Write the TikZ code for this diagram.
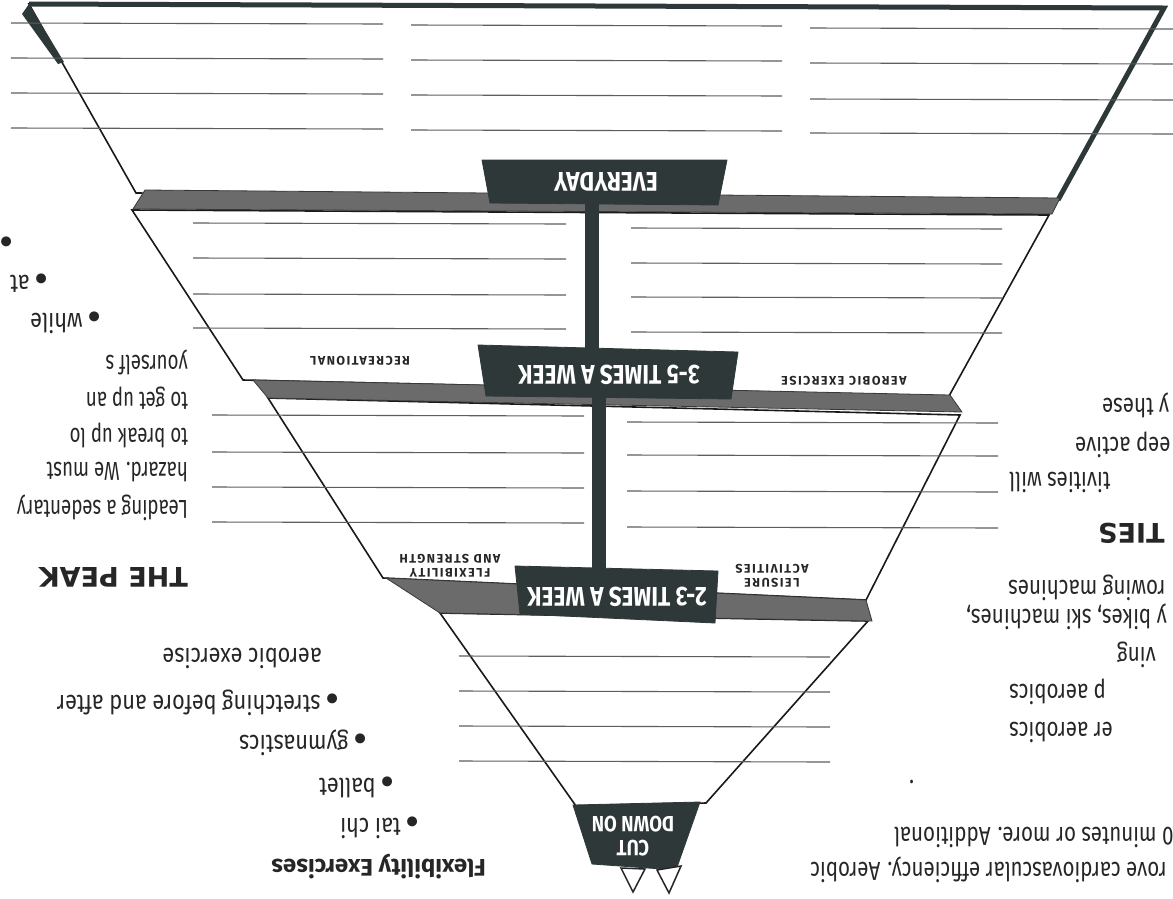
\documentclass[tikz,border=0pt]{standalone}
\usepackage{fontspec}
\setmainfont{Fira Sans}
\newfontfamily\bodyfont[FakeStretch=0.835]{Fira Sans}
\newfontfamily\sidefont[FakeStretch=0.79]{Fira Sans}
\newfontfamily\narrowfont[FakeStretch=0.72]{Fira Sans}
\newfontfamily\bannerfont[FakeStretch=0.84]{Fira Sans}
\newfontfamily\labelfont[LetterSpace=12]{Fira Sans}
\newfontfamily\headfont{DejaVu Sans}
\usepackage{tikz}
\usetikzlibrary{positioning}
\definecolor{slate}{HTML}{2E3838}
\definecolor{ink}{HTML}{262626}
\definecolor{rulegray}{HTML}{5E5E5E}
\newcommand{\blt}{{\headfont\fontsize{13}{13}\selectfont ●}}

\begin{document}
\begin{tikzpicture}[x=1pt, y=-1pt,
    tier/.style={fill=white, draw=black!90, line width=1.6pt},
    band/.style={fill=black!58, draw=black!78, line width=0.8pt},
    banner/.style={fill=slate, draw=slate, line width=0.8pt},
    rule/.style={draw=rulegray, line width=1.1pt},
    blabel/.style={rotate=180, text=white, inner sep=0pt,
                   font=\bannerfont\bfseries\fontsize{27}{28}\selectfont},
    tlabel/.style={rotate=180, text=ink, inner sep=0pt, align=center,
                   font=\labelfont\bfseries\fontsize{12.5}{14}\selectfont},
    body/.style={rotate=180, text=ink, inner sep=0pt,
                 font=\bodyfont\fontsize{26}{26}\selectfont},
    para/.style={body, font=\narrowfont\fontsize{26}{26}\selectfont},
    side/.style={body, font=\sidefont\fontsize{26}{26}\selectfont},
    head/.style={rotate=180, text=ink, inner sep=0pt,
                 font=\headfont\bfseries\fontsize{27}{27}\selectfont},
]
\useasboundingbox (0,0) rectangle (1173,898);
\fill[white] (0,0) rectangle (1173,898);
\clip (0,0) rectangle (1173,898);

% Tiers (upside down pyramid)
\draw[tier] (29,4) -- (1164,8) -- (1058,200) -- (136,193) -- cycle;
\draw[tier] (132,210) -- (1049,215) -- (949,396) -- (243,380) -- cycle;
\draw[tier] (268,398) -- (960,415) -- (866,600) -- (383,578) -- cycle;
\draw[tier] (440,613) -- (868,621) -- (706,803) -- (576,806) -- cycle;

% Heavy rim of the top tier
\draw[slate, line width=5pt] (29,4) -- (1164,8) -- (1058,200);
\fill[slate] (22,14) -- (29,4) -- (64,62) -- (58,64) -- cycle;

% Ruled lines
\foreach \y in {23,58,93,128} \draw[rule] (11,\y) -- (383,\y+1);
\foreach \y in {25,60,95,130} \draw[rule] (411,\y) -- (782,\y+1);
\foreach \y in {28,63,99,133} \draw[rule] (810,\y) -- (1173,\y+1);
\foreach \y in {223,258,294,328} \draw[rule] (193,\y) -- (566,\y+1);
\foreach \y in {228,263,297,332} \draw[rule] (631,\y) -- (1002,\y+1);
\foreach \y in {415,452,487,522} \draw[rule] (212,\y) -- (584,\y+1);
\foreach \y in {422,455,491,527} \draw[rule] (627,\y) -- (998,\y+1);
\foreach \y in {656,691,726,761} \draw[rule] (459,\y) -- (830,\y+1);

% Shadow bands between tiers
\draw[band] (145,190) -- (1060,198) -- (1052,214) -- (133,209) -- cycle;
\draw[band] (253,380) -- (950,395) -- (962,412) -- (268,398) -- cycle;
\draw[band] (386,578) -- (866,600) -- (872,621) -- (440,613) -- cycle;

% Central stem
\fill[slate] (585,200) rectangle (599,350);
\fill[slate] (592,395) rectangle (606,570);

% Banners
\draw[banner] (482,160) -- (727,160) -- (718,205) -- (490,203) -- cycle;
\draw[banner] (478,345) -- (738,352) -- (731,399) -- (486,396) -- cycle;
\draw[banner] (515,566) -- (718,571) -- (715,623) -- (520,614) -- cycle;
\draw[banner] (573,805) -- (700,802) -- (676,870) -- (592,864) -- cycle;
\draw[black!85, line width=1.5pt, fill=white] (621,868) -- (645,869) -- (633,892) -- cycle;
\draw[black!85, line width=1.5pt, fill=white] (657,870) -- (681,866) -- (669,893) -- cycle;

\node[blabel] (everyday) at (606,182) {EVERYDAY};
\node[blabel] (often) at (609,375) {3-5 TIMES A WEEK};
\node[blabel] (twice) at (617,597) {2-3 TIMES A WEEK};
\node[blabel, align=center, font=\bannerfont\bfseries\fontsize{22}{24}\selectfont]
    (cutdown) at (633,836) {CUT\\DOWN ON};

% Tier labels
\node[tlabel] (recreational) at (360,361) {RECREATIONAL};
\node[tlabel] (aerobic) at (844,381) {AEROBIC EXERCISE};
\node[tlabel] (flexibility) at (450,566) {FLEXIBILITY\\AND STRENGTH};
\node[tlabel] (leisure) at (772,576) {LEISURE\\ACTIVITIES};

% Page text, left of the picture
\node[body, anchor=west] (dot) at (12,242) {\blt};
\node[body, anchor=west] (at) at (47,283) {\blt\ at};
\node[body, anchor=west] (while) at (100,323) {\blt\ while};
\node[para, anchor=west] (yourself) at (188,362) {yourself s};
\node[para, anchor=west] (getup) at (188,398) {to get up an};
\node[para, anchor=west] (breakup) at (188,435) {to break up lo};
\node[para, anchor=west] (hazard) at (188,472) {hazard. We must};
\node[para, anchor=west] (sedentary) at (188,508) {Leading a sedentary};
\node[head, anchor=west] (peak) at (188,577) {THE PEAK};
\node[body, anchor=west] (aerobicex) at (322,658) {aerobic exercise};
\node[body, anchor=west] (stretch) at (338,703) {\blt\ stretching before and after};
\node[body, anchor=west] (gym) at (366,743) {\blt\ gymnastics};
\node[body, anchor=west] (ballet) at (393,787) {\blt\ ballet};
\node[body, anchor=west] (taichi) at (418,828) {\blt\ tai chi};
\node[head, anchor=west, font=\bfseries\fontsize{24}{24}\selectfont]
    (flexhead) at (486,867) {Flexibility Exercises};

% Page text, right of the picture
\node[side, anchor=east] (these) at (1102,405) {y these};
\node[side, anchor=east] (active) at (1075,445) {eep active};
\node[side, anchor=east] (will) at (1009,482) {tivities will};
\node[head, anchor=east] (ties) at (1098,533) {TIES};
\node[side, anchor=east] (rowing) at (1008,588) {rowing machines};
\node[side, anchor=east] (bikes) at (966,617) {y bikes, ski machines,};
\node[side, anchor=east] (ving) at (1117,655) {ving};
\node[side, anchor=east] (step) at (1009,692) {p aerobics};
\node[side, anchor=east] (water) at (1009,732) {er aerobics};
\node[side, anchor=east] (stop) at (909,782) {.};
\node[side, anchor=east] (minutes) at (894,837) {0 minutes or more. Additional};
\node[side, anchor=east] (cardio) at (810,870) {rove cardiovascular efficiency. Aerobic};
\end{tikzpicture}
\end{document}
